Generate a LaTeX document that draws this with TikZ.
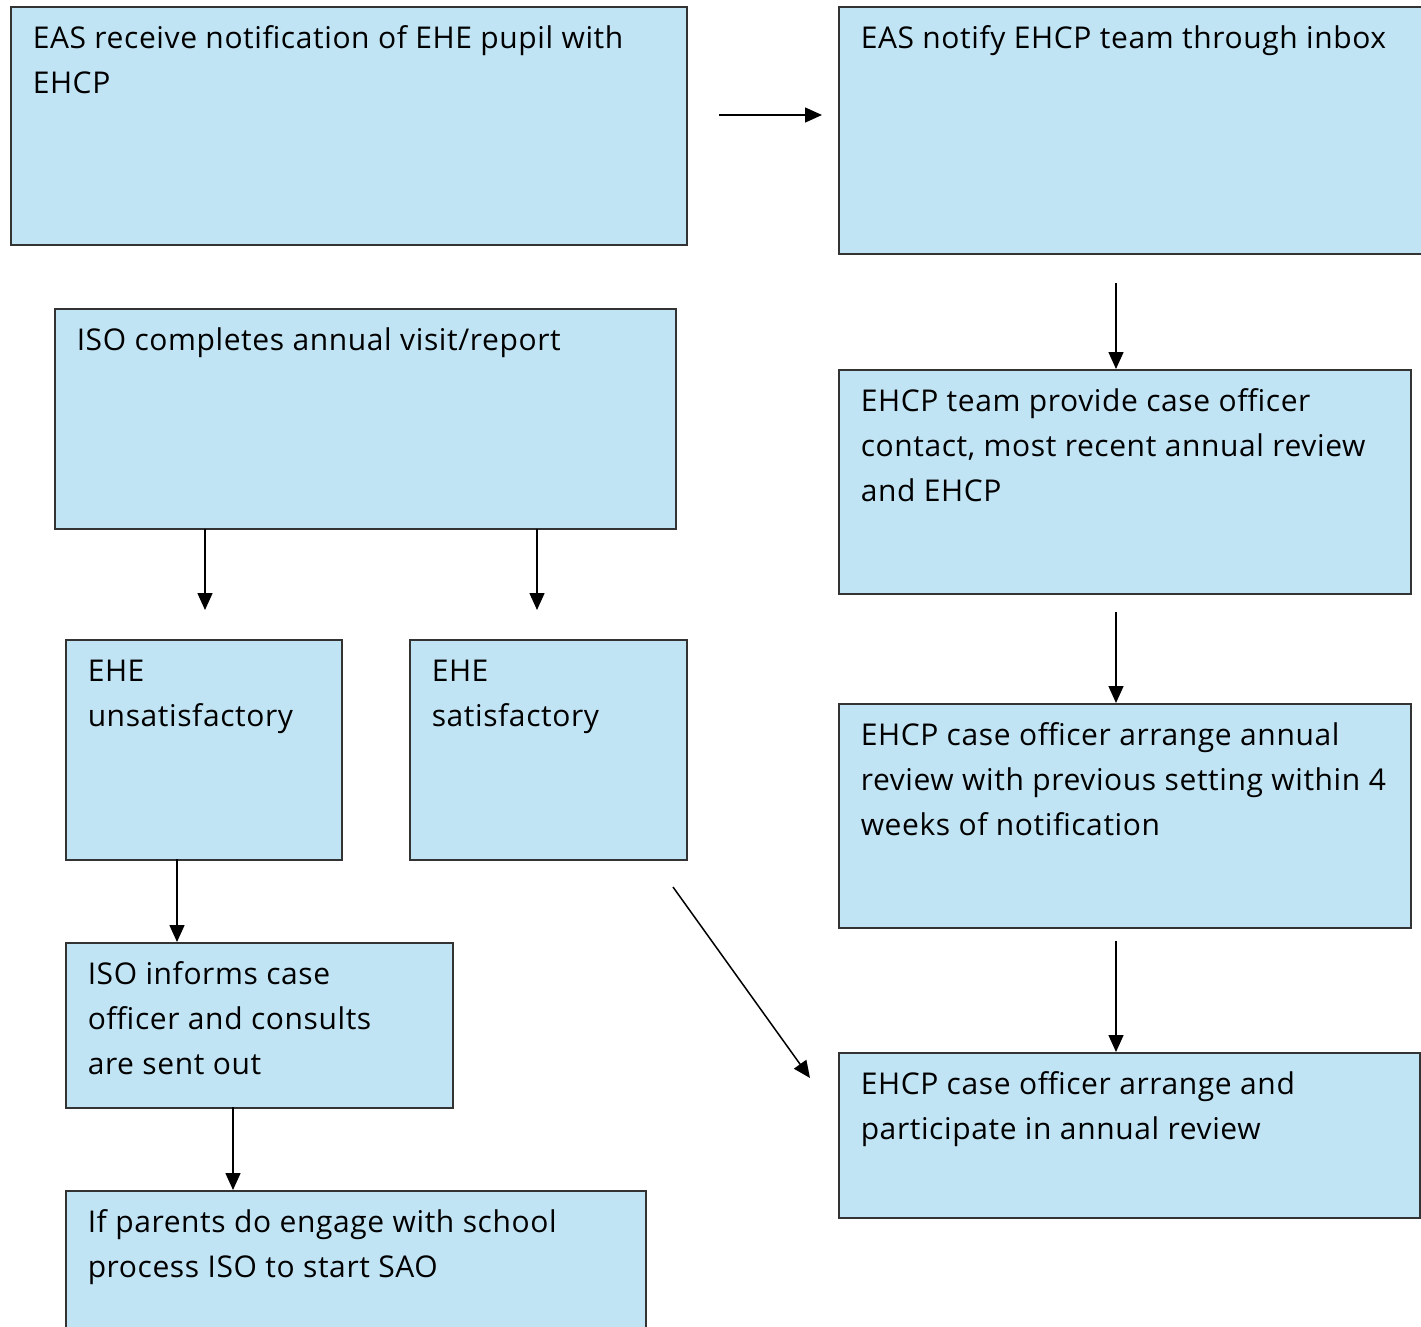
\documentclass[tikz,border=0pt]{standalone}
\usepackage{fontspec}
\setmainfont{Open Sans}[LetterSpace=2]
\usetikzlibrary{arrows.meta}
\definecolor{boxblue}{HTML}{C1E4F5}
\tikzstyle{arrow} = [line width=1.5pt, -{Triangle[length=17pt,width=15pt]}]
\tikzstyle{flowbox} = [rectangle, draw=black!80, fill=boxblue, line width=1.5pt, anchor=north west, inner xsep=22pt, inner ysep=0pt]
\newcommand\flowtext[3]{\parbox[t][#2pt][t]{\dimexpr#1pt-44pt\relax}{\raggedright\rule{0pt}{42pt}#3}}

\begin{document}
\begin{tikzpicture}[x=1pt, y=-1pt, font=\fontsize{30pt}{45pt}\selectfont]
\useasboundingbox (0,0) rectangle (1421,1326);
\clip (0,0) rectangle (1421,1326);
% Placement of flowchart boxes
\node (receive) [flowbox] at (10,6) {\flowtext{676}{238}{EAS receive notification of EHE pupil with\\EHCP}};
\node (notify) [flowbox] at (838,6) {\flowtext{620}{247}{EAS notify EHCP team through inbox}};
\node (visit) [flowbox] at (54,308) {\flowtext{621}{220}{ISO completes annual visit/report}};
\node (team) [flowbox] at (838,369) {\flowtext{572}{224}{EHCP team provide case officer\\contact, most recent annual review\\and EHCP}};
\node (unsat) [flowbox] at (65,639) {\flowtext{276}{220}{EHE\\unsatisfactory}};
\node (sat) [flowbox] at (409,639) {\flowtext{277}{220}{EHE\\satisfactory}};
\node (arrange) [flowbox] at (838,703) {\flowtext{572}{224}{EHCP case officer arrange annual\\review with previous setting within 4\\weeks of notification}};
\node (informs) [flowbox] at (65,942) {\flowtext{387}{165}{ISO informs case\\officer and consults\\are sent out}};
\node (review) [flowbox] at (838,1052) {\flowtext{581}{165}{EHCP case officer arrange and\\participate in annual review}};
\node (parents) [flowbox] at (65,1190) {\flowtext{580}{170}{If parents do engage with school\\process ISO to start SAO}};

% Free ends of the arrows
\coordinate (a1) at (719,115);
\coordinate (a2) at (1116,283);
\coordinate (a3) at (205,529);
\coordinate (a4) at (537,529);
\coordinate (a5) at (1116,612);
\coordinate (a6) at (177,859);
\coordinate (a7) at (1116,941);
\coordinate (a8) at (233,1107);
\coordinate (a9) at (673,887);
\coordinate (a10) at (810,1078);

% Drawing of arrows
\draw [arrow, shorten >=16pt] (a1) -- (a1 -| notify.west);
\draw [arrow] (a2) -- (a2 |- team.north);
\draw [arrow, shorten >=29pt] (a3) -- (a3 |- unsat.north);
\draw [arrow, shorten >=29pt] (a4) -- (a4 |- sat.north);
\draw [arrow] (a5) -- (a5 |- arrange.north);
\draw [arrow] (a6) -- (a6 |- informs.north);
\draw [arrow] (a7) -- (a7 |- review.north);
\draw [arrow] (a8) -- (a8 |- parents.north);
\draw [arrow] (a9) -- (a10);

\end{tikzpicture}
\end{document}
